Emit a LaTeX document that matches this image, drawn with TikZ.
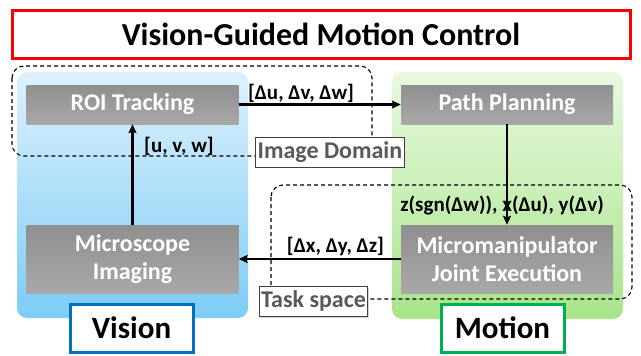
\documentclass[tikz,border=0pt]{standalone}
\usepackage{fontspec}
\setmainfont{Carlito}
\usetikzlibrary{arrows.meta,shadows}

\definecolor{titlered}{RGB}{255,0,0}
\definecolor{visblue}{RGB}{0,112,192}
\definecolor{motgreen}{RGB}{0,176,80}
\definecolor{bluetop}{RGB}{222,241,252}
\definecolor{bluebot}{RGB}{125,204,246}
\definecolor{greentop}{RGB}{232,249,224}
\definecolor{greenbot}{RGB}{168,228,138}
\definecolor{boxtop}{RGB}{143,143,143}
\definecolor{boxbot}{RGB}{168,168,168}
\definecolor{labgray}{RGB}{89,89,89}

\tikzset{
  stage/.style={rectangle, top color=boxtop, bottom color=boxbot, draw=none,
    text=white, font=\bfseries\fontsize{24}{28}\selectfont, align=center,
    inner sep=0pt, minimum width=212pt},
  panel/.style={rounded corners=10pt},
  domframe/.style={draw=black, dash pattern=on 4pt off 3pt, line width=1.1pt,
    rounded corners=12pt},
  domlabel/.style={draw=black!75, fill=white, text=labgray,
    font=\bfseries\fontsize{24}{28}\selectfont, inner xsep=2pt, inner ysep=4pt,
    text height=17pt, text depth=5pt, line width=1pt,
    drop shadow={shadow xshift=1.2pt, shadow yshift=-1.2pt, opacity=0.35}},
  flow/.style={line width=2.5pt, -{Stealth[length=9pt,width=8pt,inset=1.5pt]}},
  flowlab/.style={font=\bfseries\fontsize{21}{24}\selectfont, inner sep=0pt},
  tag/.style={fill=white, line width=3pt, font=\bfseries\fontsize{31}{36}\selectfont,
    minimum width=123pt, minimum height=48pt, inner sep=0pt,
    drop shadow={shadow xshift=1.2pt, shadow yshift=-1.2pt, opacity=0.3}}
}

\begin{document}
\begin{tikzpicture}[x=1pt,y=-1pt]
  \useasboundingbox (0,0) rectangle (641,356);

  % coloured panels for the two subsystems
  \path[panel, top color=bluetop, bottom color=bluebot] (17,72) rectangle (248,318);
  \path[panel, top color=greentop, bottom color=greenbot] (392,72) rectangle (623,319);

  % dashed domain outlines
  \draw[domframe] (12,66) rectangle (372,156);
  \draw[domframe] (271,185) rectangle (632,299);

  % title banner
  \node[draw=titlered, line width=3pt, fill=white, minimum width=618pt,
        minimum height=48pt, font=\bfseries\fontsize{32}{38}\selectfont,
        drop shadow={shadow xshift=1.5pt, shadow yshift=-1.5pt, opacity=0.35}]
        (title) at (321,34) {Vision-Guided Motion Control};

  % processing stages
  \node[stage, minimum height=39pt] (roi)   at (132.5,104.5) {ROI Tracking};
  \node[stage, minimum height=39pt] (plan)  at (507,104.5)   {Path Planning};
  \node[stage, minimum height=68pt] (scope) at (132.5,259)   {Microscope\\Imaging};
  \node[stage, minimum height=68pt] (manip) at (507,259)     {Micromanipulator\\Joint Execution};

  % signal labels
  \node[flowlab] (lduv)  at (301,93)    {[Δu, Δv, Δw]};
  \node[flowlab] (luvw)  at (179,146)   {[u, v, w]};
  \node[flowlab] (lcmd)  at (502,205)   {z(sgn(Δw)), x(Δu), y(Δv)};
  \node[flowlab] (ldxyz) at (335.5,246) {[Δx, Δy, Δz]};

  % control loop
  \draw[flow] (roi.east)    -- (plan.west);
  \draw[flow] (plan.south)  -- (manip.north);
  \draw[flow] (manip.west)  -- (scope.east);
  \draw[flow] (scope.north) -- (roi.south);

  % domain captions
  \node[domlabel] (imgdom)  at (330,152)   {Image Domain};
  \node[domlabel] (taskdom) at (313.5,301.5) {Task space};

  % subsystem tags
  \node[tag, draw=visblue]  (vision) at (131.5,328) {Vision};
  \node[tag, draw=motgreen] (motion) at (502.5,328) {Motion};
\end{tikzpicture}
\end{document}
